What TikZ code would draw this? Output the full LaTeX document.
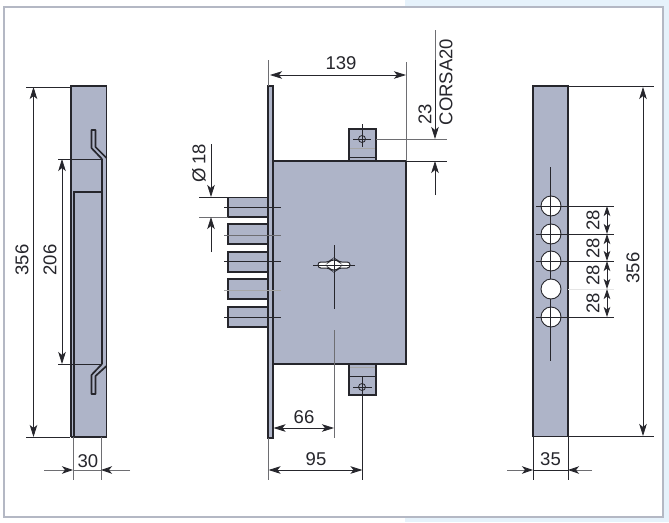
\documentclass[tikz,border=0pt]{standalone}
\usepackage{fontspec}
\setmainfont{Liberation Sans}
\usetikzlibrary{arrows.meta}
\definecolor{metal}{HTML}{AEB4C8}
\definecolor{ink}{HTML}{26262C}
\definecolor{sky}{HTML}{E6F2FB}
\definecolor{framec}{HTML}{B4B8C4}
\definecolor{dimgray}{HTML}{6E6E72}
\tikzset{
  x=1pt,y=-1pt,
  body/.style={draw=ink,fill=metal,line width=1.8pt},
  edge/.style={draw=ink,line width=1.7pt},
  thin line/.style={draw=ink,line width=.8pt},
  soft line/.style={draw=dimgray,line width=.9pt},
  pale line/.style={draw=black!35,line width=.9pt},
  faint line/.style={draw=black!10,line width=.8pt},
  dim/.style={draw=ink,line width=.8pt,-{Stealth[length=12pt,width=7.5pt,inset=3pt]}},
  softdim/.style={draw=dimgray,line width=.9pt,-{Stealth[length=11pt,width=7.5pt,inset=3pt,color=ink]}},
  dimb/.style={draw=ink,line width=.8pt,{Stealth[length=10pt,width=6.5pt,inset=2.5pt]}-{Stealth[length=10pt,width=6.5pt,inset=2.5pt]}},
  lab/.style={inner sep=0pt,text=ink,font=\fontsize{18.5}{21}\selectfont},
  vlab/.style={lab,rotate=90},
  hole/.style={draw=ink,fill=white,line width=.9pt},
}
\begin{document}
\begin{tikzpicture}
\useasboundingbox (0,0) rectangle (669,522);
% page background and frame
\fill[white] (0,0) rectangle (669,522);
\fill[sky] (405,0) rectangle (669,522);
\draw[draw=framec,line width=2pt,fill=white] (4,7) rectangle (663,517);

% ---------- left view ----------
\fill[metal] (71,86) rectangle (106.5,437);
\draw[edge] (71,437) -- (71,86) -- (106.5,86) -- (106.5,157.5);
\draw[edge] (74,437) -- (74,192) -- (102,192);
\draw[edge] (71,437) -- (106.5,437);
\draw[edge] (102,159) -- (102,364);
\draw[edge] (106.5,157) -- (106.5,437);
\draw[thin line] (58,159) -- (102,159);
\draw[edge,line join=round] (102,159) -- (91.5,148) -- (91.5,130) -- (95.5,130) -- (95.5,147) -- (106.5,158);
\draw[edge,line join=round] (102,364) -- (91.5,375) -- (91.5,394) -- (95.5,394) -- (95.5,376) -- (106.5,366);
\draw[thin line] (58,364) -- (102,364);
% left dimensions
\draw[thin line] (26,87) -- (70,87);
\draw[thin line] (26,437) -- (70,437);
\draw[dim] (33.5,262) -- (33.5,87);
\draw[dim] (33.5,262) -- (33.5,437);
\draw[dim] (62,262) -- (62,159);
\draw[dim] (62,262) -- (62,364);
\draw[soft line] (73,437) -- (73,480);
\draw[soft line] (101,437) -- (101,480);
\draw[softdim] (44,470) -- (73,470);
\draw[softdim] (130,470) -- (101,470);
\draw[soft line] (73,470) -- (101,470);
\node[vlab] (n356a) at (22,260) {356};
\node[vlab] (n206) at (50,260) {206};
\node[lab] (n30) at (88,461) {30};

% ---------- centre view ----------
\draw[body] (228,197.5) rectangle (268,217);
\draw[body] (228,224) rectangle (268,244);
\draw[body] (228,252) rectangle (268,272);
\draw[body] (228,279) rectangle (268,299);
\draw[body] (228,307) rectangle (268,327);
\draw[body] (349,129) rectangle (376,161);
\draw[body] (349,364) rectangle (376,395);
\draw[body] (273,161) rectangle (406,364);
\draw[body] (268,86) rectangle (273,438);
% tab details
\draw[pale line] (350,148) -- (375,148);
\draw[thin line] (350,157) -- (375,157);
\draw[pale line] (350,367) -- (375,367);
\draw[thin line] (350,376) -- (375,376);
\draw[thin line] (362,139) circle (3.5);
\draw[thin line] (362,387) circle (3.5);
\draw[thin line] (362,124) -- (362,147);
\draw[thin line] (353,139) -- (371,139);
\draw[thin line] (353,387) -- (372,387);
\draw[thin line] (362.5,377) -- (362.5,480);
% bolt centre lines
\draw[thin line] (224,207) -- (281,207);
\draw[soft line] (224,235) -- (281,235);
\draw[thin line] (224,261) -- (281,261);
\draw[pale line] (224,290) -- (281,290);
\draw[thin line] (224,317) -- (281,317);
% keyhole
\draw[hole,line width=1pt,rounded corners=2.8pt] (318,262) -- (329,262) -- (331,260) -- (337,260) -- (339,262) -- (350,262) -- (350,268) -- (339,268) -- (337,270) -- (331,270) -- (329,268) -- (318,268) -- cycle;
\draw[thin line] (334,245) -- (334,309);
\draw[thin line] (313,265) -- (355,265);
\draw[soft line] (334,330) -- (334,438);
% centre dimensions
\draw[soft line] (268,60) -- (268,86);
\draw[soft line] (406,62) -- (406,161);
\draw[dim] (338,75) -- (270,75);
\draw[dim] (338,75) -- (406,75);
\draw[soft line] (376,139) -- (447,139);
\draw[thin line] (406,161) -- (447,161);
\draw[soft line] (435,30) -- (435,60);
\draw[dim] (435,60) -- (435,139);
\draw[dim] (435,195) -- (435,161);
\draw[thin line] (199,197) -- (228,197);
\draw[soft line] (199,217) -- (228,217);
\draw[dim] (211,144) -- (211,197);
\draw[dim] (211,252) -- (211,217);
\draw[soft line] (268,438) -- (268,480);
\draw[dim] (304,428) -- (273.5,428);
\draw[dim] (304,428) -- (334,428);
\draw[dim] (316,470) -- (268.5,470);
\draw[dim] (316,470) -- (362.5,470);
\node[lab] (n139) at (341,63.5) {139};
\node[vlab] (n23) at (425,114) {23};
\node[vlab] (ncorsa) at (446,82) {CORSA20};
\node[vlab] (nphi) at (199,163) {Ø\,18};
\node[lab] (n66) at (304,417) {66};
\node[lab] (n95) at (316,459) {95};

% ---------- right view ----------
\draw[body] (533,86) rectangle (568,436.5);
\draw[hole] (551,206) circle (10);
\draw[hole] (551,234) circle (10);
\draw[hole] (551,261) circle (10);
\draw[hole] (551,289) circle (10);
\draw[hole] (551,317) circle (10);
\draw[thin line] (550.5,167) -- (550.5,279);
\draw[thin line] (550.5,299) -- (550.5,361);
\draw[thin line] (536,206) -- (614,206);
\draw[thin line] (536,234) -- (614,234);
\draw[thin line] (536,261) -- (614,261);
\draw[faint line] (568,289) -- (614,289);
\draw[thin line] (536,317) -- (614,317);
\draw[dimb] (607,206) -- (607,234);
\draw[dimb] (607,234) -- (607,261);
\draw[dimb] (607,261) -- (607,289);
\draw[dimb] (607,289) -- (607,317);
\draw[thin line] (568,86) -- (654,86);
\draw[thin line] (568,436.5) -- (654,436.5);
\draw[dim] (643,262) -- (643,87);
\draw[dim] (643,262) -- (643,436);
\draw[thin line] (533,436.5) -- (533,480);
\draw[thin line] (568,436.5) -- (568,480);
\draw[thin line] (533,470) -- (568,470);
\draw[softdim] (507,470) -- (533,470);
\draw[softdim] (592,470) -- (568,470);
\node[vlab] (n28a) at (593,220) {28};
\node[vlab] (n28b) at (593,248) {28};
\node[vlab] (n28c) at (593,275) {28};
\node[vlab] (n28d) at (593,303) {28};
\node[vlab] (n356b) at (633,268) {356};
\node[lab] (n35) at (550.5,459) {35};
\end{tikzpicture}
\end{document}
